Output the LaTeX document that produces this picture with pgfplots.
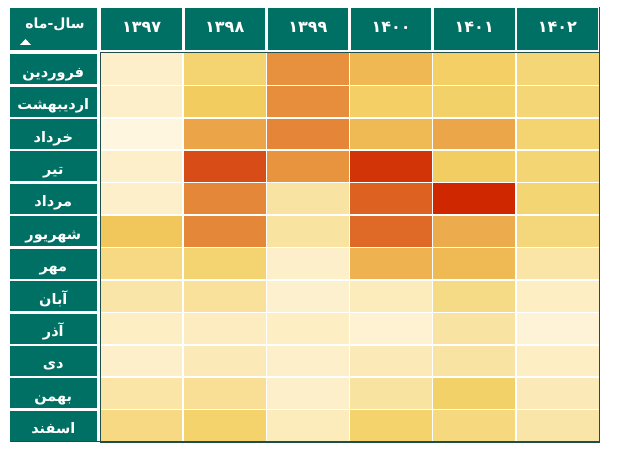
\documentclass[border=0pt]{standalone}
\usepackage{fontspec}
\usepackage{pgfplots}
\pgfplotsset{compat=1.18}
\TeXXeTstate=1
\newfontfamily\fa[Script=Arabic]{DejaVu Sans}
\definecolor{hdr}{HTML}{006F64}
\definecolor{hdrline}{HTML}{1F4F4A}
\newcommand\RL[1]{\fa\lower4.5pt\hbox{\beginR #1\endR}}
\newcommand\YR[1]{\fa\raise2pt\hbox{#1}}
\begin{document}
\begin{tikzpicture}
\path[use as bounding box] (0,0) rectangle (618pt,454pt);
\begin{axis}[
  at={(100pt,12pt)}, anchor=south west,
  scale only axis, width=499pt, height=389pt,
  xmin=-0.5, xmax=5.5, ymin=-0.5, ymax=11.5,
  y dir=reverse,
  colormap={heat}{rgb255(0pt)=(255,246,224) rgb255(10pt)=(251,232,178) rgb255(20pt)=(248,223,149) rgb255(30pt)=(244,212,112) rgb255(35pt)=(242,204,94) rgb255(45pt)=(239,184,83) rgb255(55pt)=(234,159,69) rgb255(65pt)=(230,138,58) rgb255(80pt)=(221,98,34) rgb255(90pt)=(216,76,24) rgb255(100pt)=(207,40,0)},
  point meta min=0, point meta max=1,
  axis on top,
  axis line style={hdrline, line width=1pt},
  major tick length=0pt, minor tick length=0pt,
  xtick={0,...,5}, ytick={0,...,11},
  minor xtick={0.5,1.5,...,4.5}, minor ytick={0.5,1.5,...,10.5},
  minor grid style={white, line width=1.6pt},
  xminorgrids, yminorgrids,
  xticklabel pos=right,
  xticklabels={{\YR{۱۳۹۷}},{\YR{۱۳۹۸}},{\YR{۱۳۹۹}},{\YR{۱۴۰۰}},{\YR{۱۴۰۱}},{\YR{۱۴۰۲}}},
  yticklabels={{\RL{فروردین}},{\RL{اردیبهشت}},{\RL{خرداد}},{\RL{تیر}},{\RL{مرداد}},{\RL{شهریور}},{\RL{مهر}},{\RL{آبان}},{\RL{آذر}},{\RL{دی}},{\RL{بهمن}},{\RL{اسفند}}},
  xticklabel style={anchor=south, yshift=3pt, fill=hdr, text=white, font=\fontsize{16}{18}\selectfont\bfseries, minimum width=80.5pt, minimum height=42pt, inner sep=0pt, text height=12pt, text depth=0pt},
  yticklabel style={anchor=east, xshift=-3pt, fill=hdr, text=white, font=\fontsize{14.5}{17}\selectfont\bfseries, minimum width=87pt, minimum height=30pt, inner sep=0pt, text height=11pt, text depth=4pt},
]
\addplot[matrix plot*, mesh/cols=6, point meta=explicit] table[meta=v] {
x y v
0 0 0.05
1 0 0.30
2 0 0.62
3 0 0.45
4 0 0.33
5 0 0.28
0 1 0.05
1 1 0.35
2 1 0.63
3 1 0.33
4 1 0.32
5 1 0.28
0 2 0.00
1 2 0.53
2 2 0.67
3 2 0.44
4 2 0.52
5 2 0.30
0 3 0.05
1 3 0.90
2 3 0.60
3 3 0.97
4 3 0.34
5 3 0.29
0 4 0.05
1 4 0.66
2 4 0.15
3 4 0.80
4 4 1.00
5 4 0.29
0 5 0.38
1 5 0.66
2 5 0.16
3 5 0.77
4 5 0.50
5 5 0.27
0 6 0.25
1 6 0.30
2 6 0.05
3 6 0.47
4 6 0.44
5 6 0.14
0 7 0.13
1 7 0.18
2 7 0.04
3 7 0.08
4 7 0.24
5 7 0.06
0 8 0.06
1 8 0.07
2 8 0.06
3 8 0.03
4 8 0.15
5 8 0.02
0 9 0.05
1 9 0.09
2 9 0.05
3 9 0.09
4 9 0.15
5 9 0.06
0 10 0.14
1 10 0.20
2 10 0.05
3 10 0.16
4 10 0.32
5 10 0.09
0 11 0.25
1 11 0.31
2 11 0.08
3 11 0.31
4 11 0.26
5 11 0.13
};
\end{axis}
\node[anchor=south west, fill=hdr, minimum width=87pt, minimum height=42pt, inner sep=0pt] at (10pt,404pt) {};
\node[anchor=north, text=white, font=\fontsize{14}{16}\selectfont\bfseries\fa] at (55pt,440pt) {\beginR سال-ماه\endR};
\fill[white] (20pt,409pt) -- (31pt,409pt) -- (25.5pt,415pt) -- cycle;
\draw[hdrline, line width=1pt] (599pt,12pt) -- (599pt,447pt);
\draw[hdrline, line width=1pt] (10pt,12pt) -- (599pt,12pt);
\end{tikzpicture}
\end{document}
